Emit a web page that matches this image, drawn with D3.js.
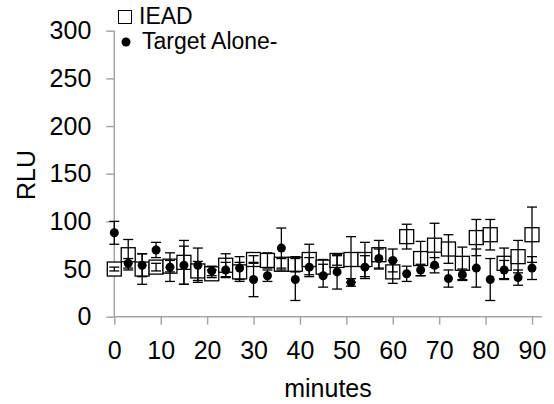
<!DOCTYPE html>
<html>
<head>
<meta charset="utf-8">
<script src="https://cdn.jsdelivr.net/npm/d3@7"></script>
<style>
  body { margin: 0; background: #fff; }
  svg { font-family: 'Liberation Sans', Arial, sans-serif; }
</style>
</head>
<body>
<svg id="chart" width="554" height="404"></svg>
<script>
// temps de mesure (minutes)
const minutes = d3.range(0, 91, 3)

// IEAD : moyennes et erreurs
const ieadMean = [50, 65, 50, 52, 53, 57, 48, 45, 54, 47, 60, 59, 55, 55, 60, 52, 59, 60, 60, 65, 47, 84, 61, 75, 71, 56, 83, 86, 56, 63, 86]
const ieadErr = [2, 16, 16, 4, 6, 23, 10, 4, 12, 10, 4, 8, 6, 8, 16, 8, 5, 24, 18, 15, 12, 13, 18, 23, 15, 17, 19, 16, 16, 17, 29]

// Target Alone : moyennes et erreurs
const aloneMean = [88, 56, 54, 70, 52, 54, 54, 48, 49, 51, 39, 43, 72, 39, 52, 43, 47, 36, 52, 61, 59, 45, 49, 54, 40, 44, 51, 39, 49, 41, 51]
const aloneErr = [12, 5, 12, 8, 15, 20, 18, 5, 8, 12, 18, 6, 21, 22, 10, 12, 18, 4, 12, 10, 12, 8, 6, 8, 9, 6, 20, 22, 10, 8, 12]

const xTicks = [0, 10, 20, 30, 40, 50, 60, 70, 80, 90]
const yTicks = [0, 50, 100, 150, 200, 250, 300]

const ieadData = minutes.map((t, i) => ({ t, v: ieadMean[i], e: ieadErr[i] }))
const aloneData = minutes.map((t, i) => ({ t, v: aloneMean[i], e: aloneErr[i] }))

const svg = d3.select('#chart')
const axisColor = '#a6a6a6'

const x = d3.scaleLinear().domain([0, 90]).range([114.3, 532])
const y = d3.scaleLinear().domain([0, 300]).range([316.7, 30.7])

// Axe Y
const gy = svg.append('g')
  .attr('transform', 'translate(114.3,0)')
  .call(d3.axisLeft(y).tickValues(yTicks).tickSize(8).tickPadding(15).tickSizeOuter(0))
gy.select('.domain').remove()
gy.append('line')
  .attr('y1', y(0)).attr('y2', y(300))
  .attr('stroke', axisColor).attr('stroke-width', 1.5)

// Axe X
const gx = svg.append('g')
  .attr('transform', `translate(0,${y(0)})`)
  .call(d3.axisBottom(x).tickValues(xTicks).tickSize(8).tickPadding(17).tickSizeOuter(0))
gx.select('.domain').remove()
gx.append('line')
  .attr('x1', x(0)).attr('x2', x(92.1))
  .attr('stroke', axisColor).attr('stroke-width', 1.5)

svg.selectAll('.tick line').attr('stroke', axisColor).attr('stroke-width', 1.5)
svg.selectAll('.tick text')
  .attr('fill', '#000')
  .style('font-size', '25px')
  .style('font-family', "'Liberation Sans', Arial, sans-serif")

// Titres des axes
svg.append('text')
  .attr('x', 328).attr('y', 397)
  .attr('text-anchor', 'middle')
  .style('font-size', '25px')
  .text('minutes')

svg.append('text')
  .attr('transform', 'translate(35,175) rotate(-90)')
  .attr('text-anchor', 'middle')
  .style('font-size', '25px')
  .text('RLU')

// Carrés IEAD
const box = 14
svg.selectAll('.iead')
  .data(ieadData)
  .join('rect')
  .attr('class', 'iead')
  .attr('x', d => x(d.t) - box / 2)
  .attr('y', d => y(d.v) - box / 2)
  .attr('width', box)
  .attr('height', box)
  .attr('fill', '#fff')
  .attr('stroke', '#000')
  .attr('stroke-width', 1.3)

// Barres d'erreur
function errorBars (data, cls) {
  const g = svg.append('g').attr('class', cls)
  const cap = 5
  const items = g.selectAll('g').data(data).join('g')
  items.append('line')
    .attr('x1', d => x(d.t)).attr('x2', d => x(d.t))
    .attr('y1', d => y(d.v + d.e)).attr('y2', d => y(d.v - d.e))
  items.append('line')
    .attr('x1', d => x(d.t) - cap).attr('x2', d => x(d.t) + cap)
    .attr('y1', d => y(d.v + d.e)).attr('y2', d => y(d.v + d.e))
  items.append('line')
    .attr('x1', d => x(d.t) - cap).attr('x2', d => x(d.t) + cap)
    .attr('y1', d => y(d.v - d.e)).attr('y2', d => y(d.v - d.e))
  g.selectAll('line').attr('stroke', '#000').attr('stroke-width', 1.3)
}
errorBars(ieadData, 'iead-err')
errorBars(aloneData, 'alone-err')

// Points Target Alone
svg.selectAll('.alone')
  .data(aloneData)
  .join('circle')
  .attr('class', 'alone')
  .attr('cx', d => x(d.t))
  .attr('cy', d => y(d.v))
  .attr('r', 4.5)
  .attr('fill', '#000')

// Légende
svg.append('rect')
  .attr('x', 118.5).attr('y', 10.5)
  .attr('width', 13).attr('height', 13)
  .attr('fill', '#fff').attr('stroke', '#000').attr('stroke-width', 1)
svg.append('text')
  .attr('x', 139).attr('y', 23.5)
  .style('font-size', '23px')
  .text('IEAD')
svg.append('circle')
  .attr('cx', 126).attr('cy', 42)
  .attr('r', 4.5)
  .attr('fill', '#000')
svg.append('text')
  .attr('x', 142).attr('y', 48.5)
  .style('font-size', '23px')
  .text('Target Alone-')
</script>
</body>
</html>
